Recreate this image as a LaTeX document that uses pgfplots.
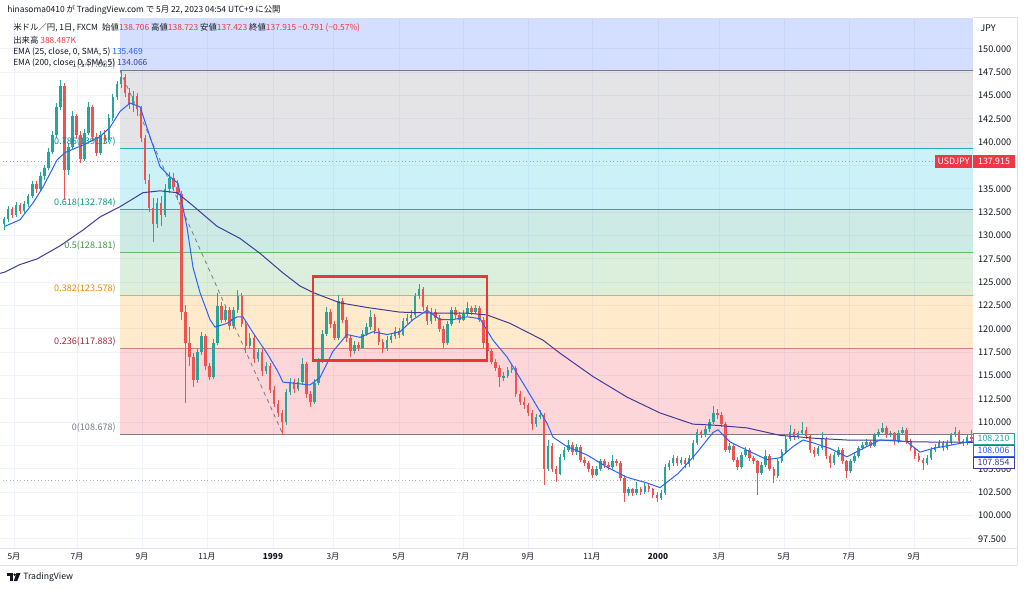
\documentclass[border=0pt]{standalone}
\usepackage{pgfplots}
\pgfplotsset{compat=1.18}
\usepackage{pgfplotstable}
\usepackage{fontspec}
\setmainfont{Noto Sans CJK JP}
\definecolor{upc}{HTML}{26A69A}
\definecolor{dnc}{HTML}{EF5350}
\definecolor{tvred}{HTML}{F23645}
\definecolor{tvtext}{HTML}{131722}
\definecolor{emaA}{HTML}{2962FF}
\definecolor{emaB}{HTML}{3F3D99}
\definecolor{fgray}{HTML}{787B86}
\definecolor{forange}{HTML}{FF9800}
\definecolor{fgreen}{HTML}{4CAF50}
\definecolor{fteal}{HTML}{089981}
\definecolor{fcyan}{HTML}{00BCD4}
\definecolor{fblue}{HTML}{2962FF}
\definecolor{gridc}{HTML}{F0F3FA}
\definecolor{framec}{HTML}{E0E3EB}
\definecolor{boxred}{HTML}{E8363B}
\newcommand\fs{\fontsize{6.3pt}{8pt}\selectfont}
\newcommand\fx{\fontsize{6.2pt}{8pt}\selectfont}
\newcommand\fy{\fontsize{6.9pt}{8pt}\selectfont}
\newcommand\fl{\fontsize{6.8pt}{8pt}\selectfont}
\newcommand\ft{\fontsize{6.6pt}{8pt}\selectfont}

\pgfplotstableread{
k o h l c
30 131.2 132.0 130.6 131.8
31 131.8 133.2 131.5 132.8
32 132.8 133.1 131.9 132.2
33 132.2 133.6 132.0 133.3
34 133.3 133.5 132.3 132.6
35 132.6 133.7 132.4 133.4
36 133.4 134.5 133.1 134.2
37 134.2 135.9 134.0 135.5
38 135.5 135.8 134.6 135.0
39 135.0 136.8 134.8 136.4
40 136.4 137.6 136.0 137.2
41 137.2 139.4 137.0 139.0
42 139.0 141.2 138.7 140.8
43 140.8 144.2 140.5 143.8
44 143.8 146.7 143.5 146.0
45 146.0 146.3 133.8 137.0
46 137.0 139.9 136.5 139.5
47 139.5 143.3 139.2 142.8
48 142.8 143.0 140.3 140.8
49 140.8 141.2 137.8 138.2
50 138.2 141.4 138.0 141.0
51 141.0 144.3 140.8 143.8
52 143.8 144.0 140.2 140.6
53 140.6 141.0 138.5 138.9
54 138.9 141.2 138.6 140.8
55 140.8 141.3 139.8 140.2
56 140.2 143.0 140.0 142.6
57 142.6 145.2 142.3 144.8
58 144.8 146.6 144.5 146.2
59 146.2 147.68 145.8 147.0
60 147.0 147.3 144.9 145.3
61 145.3 145.8 143.6 144.0
62 144.0 145.5 143.2 145.0
63 145.0 145.3 142.8 143.6
64 143.6 143.9 140.0 140.5
65 140.5 140.8 135.5 136.0
66 136.0 136.6 132.5 133.0
67 133.0 134.0 129.3 131.2
68 131.2 134.0 130.8 133.5
69 133.5 134.2 131.0 132.2
70 132.2 135.5 132.0 135.0
71 135.0 136.8 134.6 136.2
72 136.2 136.7 134.8 135.2
73 135.2 136.0 133.8 134.5
74 134.5 134.8 121.0 121.8
75 121.8 122.6 112.1 118.5
76 118.5 120.2 116.0 117.0
77 117.0 117.4 113.8 114.5
78 114.5 118.0 114.2 117.5
79 117.5 119.7 117.2 119.2
80 119.2 119.5 115.6 116.0
81 116.0 116.4 114.5 114.8
82 114.8 118.9 114.6 118.5
83 118.5 123.9 118.3 122.5
84 122.5 122.9 120.6 121.0
85 121.0 122.5 120.7 122.0
86 122.0 122.3 119.9 120.3
87 120.3 122.4 120.0 122.0
88 122.0 124.2 121.7 123.5
89 123.5 123.8 120.2 120.5
90 120.5 120.8 117.4 118.2
91 118.2 119.6 117.9 119.0
92 119.0 119.3 116.4 116.8
93 116.8 118.0 116.5 117.5
94 117.5 117.8 115.0 115.5
95 115.5 116.5 115.2 116.0
96 116.0 116.3 113.1 113.5
97 113.5 113.9 111.6 112.0
98 112.0 112.4 110.6 111.0
99 111.0 111.3 108.68 110.0
100 110.0 113.6 109.7 113.2
101 113.2 114.7 112.9 114.3
102 114.3 114.6 113.1 113.6
103 113.6 114.7 113.3 114.3
104 114.3 116.9 114.0 116.2
105 116.2 116.5 112.6 113.0
106 113.0 113.4 111.6 112.2
107 112.2 114.6 112.0 114.2
108 114.2 116.9 114.0 116.5
109 116.5 119.9 116.3 119.5
110 119.5 122.4 119.2 121.8
111 121.8 122.1 120.1 120.5
112 120.5 120.8 118.8 119.0
113 119.0 123.6 118.8 123.0
114 123.0 123.3 120.6 121.0
115 121.0 121.3 118.6 119.0
116 119.0 119.3 117.0 117.6
117 117.6 118.7 117.3 118.3
118 118.3 118.6 117.6 118.0
119 118.0 119.9 117.8 119.5
120 119.5 120.6 119.2 120.2
121 120.2 122.0 119.9 121.3
122 121.3 121.6 119.5 119.8
123 119.8 120.1 118.3 118.6
124 118.6 118.9 117.4 117.8
125 117.8 119.2 117.6 118.8
126 118.8 119.6 118.5 119.2
127 119.2 120.2 118.9 119.8
128 119.8 120.1 119.0 119.4
129 119.4 121.2 119.2 120.8
130 120.8 121.6 120.5 121.2
131 121.2 122.0 120.9 121.5
132 121.5 123.9 121.3 123.5
133 123.5 124.8 123.2 124.3
134 124.3 124.5 121.9 122.3
135 122.3 122.6 120.4 120.8
136 120.8 122.2 120.5 121.8
137 121.8 122.1 120.8 121.2
138 121.2 121.5 119.7 120.0
139 120.0 120.3 118.0 118.5
140 118.5 120.9 118.3 120.5
141 120.5 122.4 120.3 122.0
142 122.0 122.3 121.1 121.5
143 121.5 121.8 120.6 121.0
144 121.0 122.0 120.8 121.6
145 121.6 122.9 121.4 122.2
146 122.2 122.5 121.5 121.8
147 121.8 122.6 121.6 122.2
148 122.2 122.5 120.7 121.0
149 121.0 121.3 118.0 118.5
150 118.5 118.8 117.3 117.6
151 117.6 117.9 116.2 116.5
152 116.5 116.8 115.5 115.8
153 115.8 116.1 113.8 114.8
154 114.8 115.4 114.4 115.0
155 115.0 115.9 114.7 115.6
156 115.6 116.2 115.3 115.8
157 115.8 116.0 112.7 113.0
158 113.0 113.3 111.9 112.2
159 112.2 112.7 111.4 111.8
160 111.8 112.1 110.7 111.0
161 111.0 111.3 109.2 109.8
162 109.8 110.9 109.5 110.6
163 110.6 111.3 110.3 110.8
164 110.8 111.0 103.3 105.0
165 105.0 108.1 104.8 107.5
166 107.5 107.8 104.7 105.0
167 105.0 105.3 103.6 104.5
168 104.5 106.6 104.3 106.3
169 106.3 107.4 106.0 107.0
170 107.0 108.1 106.8 107.6
171 107.6 107.9 106.5 106.8
172 106.8 107.7 106.5 107.4
173 107.4 107.6 105.7 106.0
174 106.0 106.3 105.3 105.6
175 105.6 105.9 104.7 105.0
176 105.0 105.3 104.0 104.4
177 104.4 105.3 104.2 105.0
178 105.0 106.1 104.8 105.8
179 105.8 106.1 105.1 105.4
180 105.4 105.7 104.9 105.2
181 105.2 106.5 105.0 105.8
182 105.8 106.1 105.3 105.6
183 105.6 105.9 103.7 104.0
184 104.0 104.3 101.5 102.4
185 102.4 103.1 102.1 102.8
186 102.8 103.0 102.1 102.4
187 102.4 103.6 102.2 102.8
188 102.8 103.1 102.2 102.5
189 102.5 103.5 102.3 103.2
190 103.2 103.4 102.5 102.8
191 102.8 103.0 101.9 102.2
192 102.2 102.5 101.5 101.9
193 101.9 102.7 101.7 102.4
194 102.4 105.5 102.2 105.2
195 105.2 106.0 104.9 105.6
196 105.6 106.5 105.3 106.2
197 106.2 106.4 105.3 105.6
198 105.6 106.3 105.4 106.0
199 106.0 106.2 105.1 105.5
200 105.5 106.5 105.2 106.2
201 106.2 108.1 106.0 107.8
202 107.8 109.3 107.6 109.0
203 109.0 109.2 108.3 108.6
204 108.6 109.6 108.4 109.3
205 109.3 110.3 109.0 110.0
206 110.0 111.7 109.8 111.0
207 111.0 111.4 110.4 110.8
208 110.8 111.1 109.5 109.8
209 109.8 110.0 106.8 107.0
210 107.0 107.8 106.7 107.5
211 107.5 107.7 105.7 106.0
212 106.0 106.3 104.9 105.2
213 105.2 106.8 105.0 106.5
214 106.5 107.4 106.3 107.0
215 107.0 107.2 105.9 106.2
216 106.2 106.4 105.5 105.8
217 105.8 106.0 102.2 104.6
218 104.6 105.7 104.4 105.4
219 105.4 107.0 105.2 106.4
220 106.4 106.6 104.8 105.0
221 105.0 105.2 103.5 104.2
222 104.2 106.1 104.0 105.8
223 105.8 107.1 105.6 106.8
224 106.8 108.5 106.6 108.2
225 108.2 109.7 108.0 109.0
226 109.0 109.3 108.1 108.4
227 108.4 109.1 108.2 108.8
228 108.8 110.0 108.6 109.2
229 109.2 109.5 108.2 108.5
230 108.5 108.7 106.7 107.0
231 107.0 107.3 106.3 106.6
232 106.6 107.5 106.4 107.2
233 107.2 109.0 107.0 108.2
234 108.2 108.4 106.1 106.4
235 106.4 106.6 105.1 105.6
236 105.6 106.8 105.4 106.5
237 106.5 107.3 106.3 107.0
238 107.0 107.2 105.5 105.8
239 105.8 106.0 104.0 104.8
240 104.8 106.1 104.6 105.8
241 105.8 106.7 105.6 106.4
242 106.4 107.5 106.2 107.2
243 107.2 107.9 107.0 107.6
244 107.6 108.2 107.3 107.9
245 107.9 108.1 107.2 107.5
246 107.5 108.9 107.3 108.6
247 108.6 109.3 108.4 109.0
248 109.0 109.9 108.8 109.4
249 109.4 109.6 108.3 108.6
250 108.6 109.1 108.4 108.8
251 108.8 109.0 107.6 108.0
252 108.0 109.2 107.8 108.9
253 108.9 109.5 108.7 109.2
254 109.2 109.4 107.7 108.0
255 108.0 108.2 106.9 107.2
256 107.2 107.4 106.1 106.4
257 106.4 106.7 105.7 106.0
258 106.0 106.2 104.9 105.6
259 105.6 106.5 105.4 106.2
260 106.2 107.3 106.0 107.0
261 107.0 107.7 106.8 107.4
262 107.4 108.1 107.2 107.8
263 107.8 108.0 106.9 107.2
264 107.2 108.1 107.0 107.8
265 107.8 108.9 107.6 108.6
266 108.6 109.5 108.4 109.0
267 109.0 109.2 107.7 108.0
268 108.0 108.2 107.5 107.8
269 107.8 108.7 107.6 108.4
270 108.4 109.2 107.9 108.21
}\candles

\pgfplotsset{
  wick/.style={draw=none, mark=none, forget plot, error bars/.cd, y dir=both, y explicit, error mark=none, error bar style={line width=0.55pt, draw=#1}},
  body/.style={draw=none, mark=none, forget plot, error bars/.cd, y dir=both, y explicit, error mark=none, error bar style={line width=1.9pt, draw=#1}},
}

\begin{document}
\begin{tikzpicture}
\useasboundingbox (0pt,0pt) rectangle (768pt,441.75pt);
\fill[white] (0pt,0pt) rectangle (768pt,441.75pt);
\begin{axis}[
  at={(0pt,30.75pt)}, anchor=south west,
  scale only axis, width=729.75pt, height=396.75pt,
  xmin=29, xmax=270.44, ymin=96.53, ymax=153.21,
  axis line style={draw=none},
  tick style={draw=none},
  grid=major, grid style={draw=gridc, line width=0.7pt},
  ytick={97.5,100,...,150},
  yticklabel pos=right,
  yticklabel={\pgfmathprintnumber[fixed,fixed zerofill,precision=3,assume math mode=true,1000 sep={}]{\tick}},
  yticklabel style={font=\fy, text=tvtext, anchor=west, inner sep=0pt, xshift=3.6pt},
  xtick={32.47,48.11,64.24,80.36,96.74,111.63,128.0,143.89,160.02,175.90,192.28,207.41,223.54,239.67,255.80},
  xticklabels={5月,7月,9月,11月,\textbf{1999},3月,5月,7月,9月,11月,\textbf{2000},3月,5月,7月,9月},
  xticklabel style={font=\fx, text=tvtext, anchor=center, yshift=-6.7pt},
  clip=true,
]
% Fibonacci bands
\addplot[draw=none, fill=tvred, fill opacity=0.2, forget plot] coordinates {(58.78,108.678) (270.5,108.678) (270.5,117.883) (58.78,117.883)} -- cycle;
\addplot[draw=none, fill=forange, fill opacity=0.2, forget plot] coordinates {(58.78,117.883) (270.5,117.883) (270.5,123.578) (58.78,123.578)} -- cycle;
\addplot[draw=none, fill=fgreen, fill opacity=0.2, forget plot] coordinates {(58.78,123.578) (270.5,123.578) (270.5,128.181) (58.78,128.181)} -- cycle;
\addplot[draw=none, fill=fteal, fill opacity=0.2, forget plot] coordinates {(58.78,128.181) (270.5,128.181) (270.5,132.784) (58.78,132.784)} -- cycle;
\addplot[draw=none, fill=fcyan, fill opacity=0.2, forget plot] coordinates {(58.78,132.784) (270.5,132.784) (270.5,139.337) (58.78,139.337)} -- cycle;
\addplot[draw=none, fill=fgray, fill opacity=0.2, forget plot] coordinates {(58.78,139.337) (270.5,139.337) (270.5,147.682) (58.78,147.682)} -- cycle;
\addplot[draw=none, fill=fblue, fill opacity=0.2, forget plot] coordinates {(58.78,147.682) (270.5,147.682) (270.5,154) (58.78,154)} -- cycle;
% level lines
\addplot[fgray, line width=0.7pt, forget plot] coordinates {(58.78,108.678) (270.5,108.678)};
\addplot[tvred!75!black!80, line width=0.7pt, opacity=0.7, forget plot] coordinates {(58.78,117.883) (270.5,117.883)};
\addplot[forange, line width=0.7pt, opacity=0.8, forget plot] coordinates {(58.78,123.578) (270.5,123.578)};
\addplot[fgreen, line width=0.7pt, opacity=0.8, forget plot] coordinates {(58.78,128.181) (270.5,128.181)};
\addplot[fteal, line width=0.7pt, opacity=0.8, forget plot] coordinates {(58.78,132.784) (270.5,132.784)};
\addplot[fcyan!80!black, line width=0.7pt, opacity=0.8, forget plot] coordinates {(58.78,139.337) (270.5,139.337)};
\addplot[fgray, line width=0.7pt, forget plot] coordinates {(58.78,147.682) (270.5,147.682)};
% dotted price lines
\addplot[fgray!70, dotted, line width=0.6pt, forget plot] coordinates {(28,137.915) (261.0,137.915)};
\addplot[fgray!60, dotted, line width=0.6pt, forget plot] coordinates {(28,103.8) (271,103.8)};
% trend line of the retracement
\addplot[fgray, dashed, line width=0.6pt, forget plot] coordinates {(58.78,147.682) (99.22,108.678)};
% candles
\addplot[restrict expr to domain={\thisrow{c}-\thisrow{o}}{0:100}, wick=upc] table[x=k, y=c, y error plus expr=\thisrow{h}-\thisrow{c}, y error minus expr=\thisrow{c}-\thisrow{l}] {\candles};
\addplot[restrict expr to domain={\thisrow{c}-\thisrow{o}}{-100:-0.0001}, wick=dnc] table[x=k, y=c, y error plus expr=\thisrow{h}-\thisrow{c}, y error minus expr=\thisrow{c}-\thisrow{l}] {\candles};
\addplot[restrict expr to domain={\thisrow{c}-\thisrow{o}}{0:100}, body=upc] table[x=k, y expr=(\thisrow{o}+\thisrow{c})/2, y error expr={abs(\thisrow{c}-\thisrow{o})/2}] {\candles};
\addplot[restrict expr to domain={\thisrow{c}-\thisrow{o}}{-100:-0.0001}, body=dnc] table[x=k, y expr=(\thisrow{o}+\thisrow{c})/2, y error expr={abs(\thisrow{c}-\thisrow{o})/2}] {\candles};
% EMA 200
\addplot[emaB, line width=0.75pt, forget plot] coordinates {
(28.5,125.9) (30.24,126.1) (33.96,126.9) (38.18,127.5) (43.89,128.9) (49.60,130.6) (53.81,132.0) (58.78,133.1)
(64.48,134.6) (68.70,134.8) (72.92,134.6) (76.89,133.2) (82.85,131.0) (88.55,129.7) (93.52,128.1)
(99.22,126.0) (103.44,124.6) (106.67,123.9) (113.37,122.8) (120.07,122.3) (128.26,121.8) (136.44,121.7)
(144.88,121.7) (149.84,121.5) (155.55,120.6) (163.74,118.8) (167.96,117.4) (176.15,114.9) (184.58,112.7)
(192.77,111.0) (200.96,109.8) (205.92,109.7) (214.36,109.4) (222.55,108.6) (230.74,108.3) (239.17,108.1)
(247.36,108.1) (255.55,107.9) (270.44,107.85)};
% EMA 25
\addplot[emaA, line width=0.75pt, forget plot] coordinates {
(30.24,131.0) (33.96,131.7) (37.19,133.5) (39.67,135.2) (43.14,138.1) (45.13,138.9) (49.60,139.7)
(53.81,140.6) (56.30,141.6) (58.78,143.3) (61.26,144.2) (63.74,143.8) (66.22,140.6) (68.70,137.4)
(71.18,136.3) (73.17,135.6) (75.40,130.9) (76.89,126.6) (78.63,123.9) (81.11,121.0) (82.35,120.2)
(85.33,120.6) (87.81,121.3) (89.30,121.3) (91.78,119.6) (95.25,117.4) (97.73,115.6) (99.22,114.3)
(101.70,114.2) (105.92,114.0) (108.40,114.8) (111.63,117.6) (115.10,119.4) (118.33,119.1) (121.56,119.7)
(125.03,119.4) (128.26,119.7) (131.48,121.0) (134.95,122.0) (138.18,121.0) (141.41,121.0) (144.88,121.3)
(148.11,121.1) (151.33,118.8) (154.81,117.0) (159.77,113.5) (164.73,109.9) (166.22,108.4) (169.69,107.4)
(174.65,106.5) (179.62,105.2) (184.58,104.1) (189.54,103.5) (192.77,103.0) (197.24,104.5) (201.46,106.5)
(205.92,108.9) (207.16,109.2) (210.14,107.9) (214.36,107.0) (219.32,106.0) (222.55,106.2) (225.78,107.4)
(228.26,108.1) (230.74,107.8) (234.96,107.2) (239.17,106.3) (243.16,107.2) (247.36,108.1) (250.59,108.1)
(254.07,107.9) (257.30,106.8) (260.53,107.2) (270.44,108.0)};
% highlighted range
\addplot[boxred, line width=2.2pt, line join=miter, forget plot] coordinates {(106.67,125.57) (149.84,125.57) (149.84,116.57) (106.67,116.57)} -- cycle;
\end{axis}

\begin{scope}[shift={(0pt,441.75pt)}, x=0.75pt, y=-0.75pt]
% frame
\draw[framec, line width=0.6pt] (0,548) -- (1017,548);
\draw[framec, line width=0.6pt] (0,565) -- (1017,565);
\draw[framec, line width=0.6pt] (1017,17) -- (1017,565);
\draw[framec, line width=0.6pt] (973,17) -- (1017,17);
% fib labels
\begin{scope}[every node/.style={font=\fl, anchor=east, inner sep=0pt}]
\node[text=fgray!90] at (116,65) {1(147.682)};
\node[text=fcyan!75!black] at (116,142) {0.786(139.337)};
\node[text=fteal] at (116,203) {0.618(132.784)};
\node[text=fgreen!85!black] at (116,246) {0.5(128.181)};
\node[text=forange!90!black] at (116,289) {0.382(123.578)};
\node[text=tvred!70!black] at (116,342) {0.236(117.883)};
\node[text=fgray] at (116,428) {0(108.678)};
\end{scope}
% header
\node[anchor=west, font=\fs, text=tvtext, inner sep=0pt] at (7,10) {hinasoma0410 が TradingView.com で 5月 22, 2023 04:54 UTC+9 に公開};
\node[anchor=west, font=\fs, text=tvtext, inner sep=0pt] at (13,28) {米ドル／円, 1日, FXCM\enspace 始値\textcolor{tvred}{138.706}\ 高値\textcolor{tvred}{138.723}\ 安値\textcolor{tvred}{137.423}\ 終値\textcolor{tvred}{137.915}\ \textcolor{tvred}{−0.791 (−0.57\%)}};
\node[anchor=west, font=\fs, text=tvtext, inner sep=0pt] at (13,40) {出来高\ \textcolor{tvred}{388.487K}};
\node[anchor=west, font=\fs, text=tvtext, inner sep=0pt] at (13,52) {EMA (25, close, 0, SMA, 5)\ \textcolor{emaA}{135.469}};
\node[anchor=west, font=\fs, text=tvtext, inner sep=0pt] at (13,63) {EMA (200, close, 0, SMA, 5)\ \textcolor{emaB}{134.066}};
% right axis extras
\node[anchor=west, font=\fy, text=tvtext, inner sep=0pt] at (980,28) {JPY};
\fill[tvred] (935,155) rectangle (972,168);
\node[font=\ft, text=white, inner sep=0pt] at (953.5,161.5) {USDJPY};
\fill[tvred] (973,155) rectangle (1015,168);
\node[font=\ft, text=white, inner sep=0pt] at (994,161.5) {137.915};
\filldraw[fill=white, draw=upc, line width=0.6pt] (973,433) rectangle (1014,444);
\node[font=\ft, text=upc, inner sep=0pt] at (993.5,438.5) {108.210};
\filldraw[fill=white, draw=emaA, line width=0.6pt] (973,445) rectangle (1014,456);
\node[font=\ft, text=emaA, inner sep=0pt] at (993.5,450.5) {108.006};
\filldraw[fill=white, draw=emaB, line width=0.6pt] (973,457) rectangle (1014,468);
\node[font=\ft, text=emaB, inner sep=0pt] at (993.5,462.5) {107.854};
% logo
\fill[tvtext] (7,573) rectangle (13,575.5);
\fill[tvtext] (10,573) rectangle (12.8,581);
\fill[tvtext] (14.6,574.6) circle (1.3);
\fill[tvtext] (16.5,573) -- (20.5,573) -- (17.2,581) -- (13.8,581) -- cycle;
\node[anchor=west, font=\fontsize{6.5pt}{8pt}\selectfont, text=tvtext, inner sep=0pt] at (23,577) {TradingView};
\end{scope}
\end{tikzpicture}
\end{document}
